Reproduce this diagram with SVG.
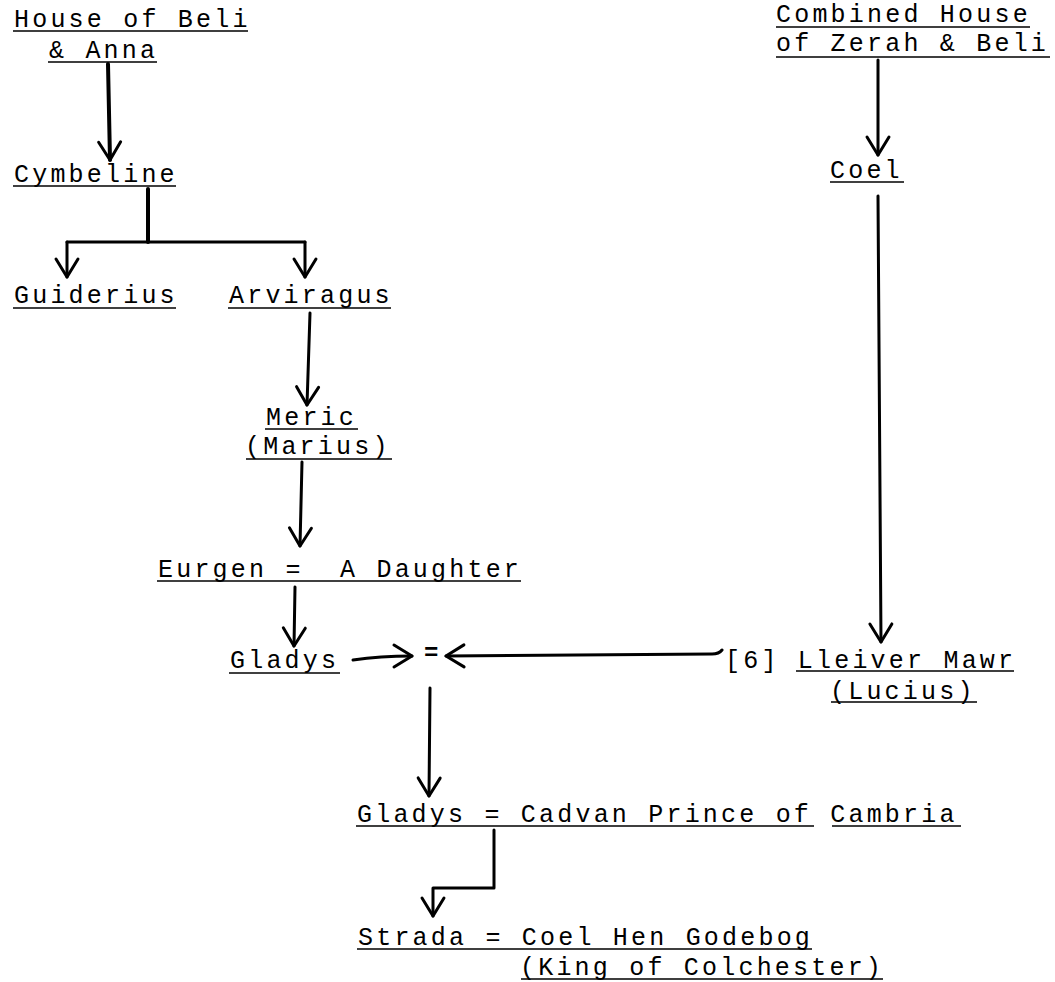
<svg xmlns="http://www.w3.org/2000/svg" width="1055" height="982" viewBox="0 0 1055 982">
<style>
.t{font-family:"Liberation Mono","DejaVu Sans Mono",monospace;font-size:25px;letter-spacing:3.2px;fill:#000}
.u{stroke:#000;stroke-width:1.6;fill:none}
.c{stroke:#000;stroke-width:3;fill:none;stroke-linecap:round;stroke-linejoin:round}
.ct{stroke-width:4}
.eq{font-family:"Liberation Mono","DejaVu Sans Mono",monospace;font-size:24px;font-weight:bold;fill:#000}
</style>
<defs>
<marker id="v" viewBox="-24 -15 28 30" refX="0" refY="0" markerWidth="28" markerHeight="30" markerUnits="userSpaceOnUse" orient="auto">
<path d="M-18,-11 L0,0 L-18,11" fill="none" stroke="#000" stroke-width="3" stroke-linecap="round" stroke-linejoin="round"/>
</marker>
</defs>
<rect width="1055" height="982" fill="#fff"/>
<g id="connectors">
<path class="c ct" d="M108,64 L110,160" marker-end="url(#v)"/>
<path class="c ct" d="M148,189 L148,242"/>
<path class="c" d="M67,242 L305,242"/>
<path class="c" d="M67,242 L67,277" marker-end="url(#v)"/>
<path class="c" d="M305,242 L305,277" marker-end="url(#v)"/>
<path class="c" d="M310,313 L307,405" marker-end="url(#v)"/>
<path class="c" d="M302,462 L300,546" marker-end="url(#v)"/>
<path class="c" d="M295,587 L294,646" marker-end="url(#v)"/>
<path class="c" d="M353,660 Q380,656 412,656" marker-end="url(#v)"/>
<path class="c" d="M722,650 Q719,654 712,654 L446,656" marker-end="url(#v)"/>
<path class="c" d="M878,60 L878,155" marker-end="url(#v)"/>
<path class="c" d="M878,196 L881,642" marker-end="url(#v)"/>
<path class="c" d="M430,688 L429,796" marker-end="url(#v)"/>
<path class="c" d="M494,830 L494,888 L433,888 L433,916" marker-end="url(#v)"/>
</g>
<g id="house-beli-anna">
<text class="t" x="14" y="27">House of Beli</text>
<text class="t" x="49" y="58">&amp; Anna</text>
<path class="u" d="M13,31 H248 M48,62 H157"/>
</g>
<g id="cymbeline">
<text class="t" x="14" y="182">Cymbeline</text>
<path class="u" d="M13,186 H176"/>
</g>
<g id="guiderius">
<text class="t" x="14" y="303">Guiderius</text>
<path class="u" d="M13,308 H176"/>
</g>
<g id="arviragus">
<text class="t" x="229" y="303">Arviragus</text>
<path class="u" d="M228,308 H391"/>
</g>
<g id="meric">
<text class="t" x="266" y="425">Meric</text>
<text class="t" x="245" y="454">(Marius)</text>
<path class="u" d="M265,429 H358 M246,459 H392"/>
</g>
<g id="eurgen">
<text class="t" x="158" y="577" xml:space="preserve">Eurgen =  A Daughter</text>
<path class="u" d="M157,581 H521"/>
</g>
<g id="gladys1">
<text class="t" x="230" y="668">Gladys</text>
<path class="u" d="M229,673 H340"/>
</g>
<g id="marriage">
<text class="eq" x="424" y="660">=</text>
</g>
<g id="combined-house">
<text class="t" x="776" y="22">Combined House</text>
<text class="t" x="776" y="51">of Zerah &amp; Beli</text>
<path class="u" d="M776,27 H1030 M776,57 H1050"/>
</g>
<g id="coel">
<text class="t" x="830" y="178">Coel</text>
<path class="u" d="M830,182 H904"/>
</g>
<g id="lleiver">
<text class="t" x="725" y="668">[6] Lleiver Mawr</text>
<text class="t" x="830" y="699">(Lucius)</text>
<path class="u" d="M796,671 H1014 M831,702 H977"/>
</g>
<g id="gladys-cadvan">
<text class="t" x="357" y="822">Gladys = Cadvan Prince of Cambria</text>
<path class="u" d="M356,826 H814 M832,826 H961"/>
</g>
<g id="strada">
<text class="t" x="358" y="945">Strada = Coel Hen Godebog</text>
<text class="t" x="520" y="975">(King of Colchester)</text>
<path class="u" d="M357,949 H812 M521,979 H883"/>
</g>
</svg>
